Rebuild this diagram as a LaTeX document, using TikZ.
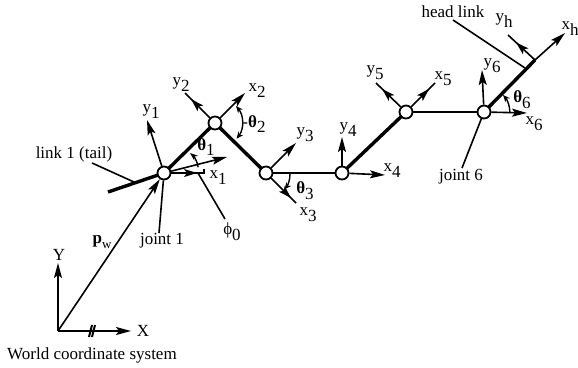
\documentclass[tikz,border=0pt]{standalone}
\usepackage{fontspec}
\setmainfont{Liberation Serif}
\usepackage{tikz}
\usetikzlibrary{arrows.meta, decorations.markings}
\newcommand{\Sub}[2]{#1\raisebox{-0.75ex}{#2}}
\tikzset{
    joint/.style={circle, draw, fill=white, line width=1.8pt, minimum size=13pt, inner sep=0pt},
    tag/.style={inner sep=0pt, font=\fontsize{17}{18}\selectfont},
    bone/.style={line width=3.4pt},
    halfbone/.style={line width=2.2pt},
    leader/.style={line width=1.6pt},
    frame/.style={line width=1.6pt, -{Stealth[length=15pt,width=8pt,inset=3pt]}},
    midhead/.style={line width=1.6pt, postaction={decorate},
      decoration={markings, mark=at position #1 with {\arrow{Stealth[length=13pt,width=8pt,inset=3pt]}}}},
    anglearc/.style={line width=1.4pt},
}

\begin{document}
\begin{tikzpicture}[x=1pt, y=-1pt]
    \useasboundingbox (0,0) rectangle (578,367);

    % free ends
    \coordinate (world) at (58,331);
    \coordinate (worldX) at (131,331);
    \coordinate (worldY) at (58,263);
    \coordinate (tail) at (108,192);
    \coordinate (headend) at (535,60);
    \coordinate (tip1x) at (227,157);
    \coordinate (tip1y) at (147,120);
    \coordinate (tip1z) at (204,173);
    \coordinate (tip2x) at (245,93);
    \coordinate (tip2y) at (185,93);
    \coordinate (tip3x) at (296,203);
    \coordinate (tip3y) at (296,143);
    \coordinate (tip4x) at (385,175);
    \coordinate (tip4y) at (342,137);
    \coordinate (tip5x) at (435,83);
    \coordinate (tip5y) at (376,83);
    \coordinate (tip6x) at (527,113);
    \coordinate (tip6y) at (482,70);
    \coordinate (tiphx) at (565,33);
    \coordinate (tiphy) at (508,35);
    \coordinate (tailfoot) at (134,182);
    \coordinate (headfoot) at (525,68);
    \coordinate (phifoot) at (198,173);

    % links
    \draw[bone] (tail) -- (164,173) -- (215,123) -- (266,173);
    \draw[halfbone] (266,173) -- (342,173);
    \draw[bone] (342,173) -- (406,112);
    \draw[halfbone] (406,112) -- (484,112);
    \draw[bone] (484,112) -- (headend);

    % joints
    \node[joint] (j1) at (164,173) {};
    \node[joint] (j2) at (215,123) {};
    \node[joint] (j3) at (266,173) {};
    \node[joint] (j4) at (342,173) {};
    \node[joint] (j5) at (406,112) {};
    \node[joint] (j6) at (484,112) {};

    % frames
    \draw[frame] (world) -- (worldX);
    \draw[frame] (world) -- (worldY);
    \draw[line width=2pt] (89,337) -- (92,325);
    \draw[line width=2pt] (92,337) -- (95,325);
    \draw[frame] (world) -- (j1);
    \draw[frame] (j1) -- (tip1x);
    \draw[frame] (j1) -- (tip1y);
    \draw[midhead=0.7] (j1) -- (tip1z) -- ++(0,-4);
    \draw[frame] (j2) -- (tip2x);
    \draw[midhead=0.75] (j2) -- (tip2y);
    \draw[midhead=0.8] (j3) -- (tip3x);
    \draw[frame] (j3) -- (tip3y);
    \draw[frame] (j4) -- (tip4x);
    \draw[frame] (j4) -- (tip4y);
    \draw[midhead=0.75] (j5) -- (tip5x);
    \draw[midhead=0.75] (j5) -- (tip5y);
    \draw[frame] (j6) -- (tip6x);
    \draw[frame] (j6) -- (tip6y);
    \draw[frame] (headend) -- (tiphx);
    \draw[midhead=0.7] (headend) -- (tiphy);

    % angles
    \draw[anglearc, {Stealth[length=8pt,width=6pt]}-] (190,153) arc[start angle=-50, end angle=-10, radius=24];
    \draw[anglearc, {Stealth[length=7pt,width=6pt]}-{Stealth[length=7pt,width=6pt]}] (236,106) arc[start angle=-40, end angle=38, radius=26];
    \draw[anglearc, -{Stealth[length=7pt,width=6pt]}] (290,174) arc[start angle=0, end angle=40, radius=24];
    \draw[anglearc, {Stealth[length=7pt,width=6pt]}-] (503,95) arc[start angle=-42, end angle=0, radius=27];

    % labels
    \node[tag] (lblworld) at (92,355) {World coordinate system};
    \node[tag] (lblX) at (143,331) {X};
    \node[tag] (lblY) at (59,255) {Y};
    \node[tag] (lblpw) at (102,242) {\Sub{\textbf{p}}{\fontsize{13}{14}\selectfont w}};
    \node[tag] (lblj1) at (162,241) {joint 1};
    \node[tag] (lblphi) at (232,232) {\Sub{ϕ}{0}};
    \node[tag] (lbltail) at (74,154) {link 1 (tail)};
    \node[tag] (lblx1) at (218,178) {\Sub{x}{1}};
    \node[tag] (lbly1) at (151,112) {\Sub{y}{1}};
    \node[tag] (lblth1) at (206,147) {\Sub{\textbf{θ}}{1}};
    \node[tag] (lblx2) at (257,91) {\Sub{x}{2}};
    \node[tag] (lbly2) at (181,85) {\Sub{y}{2}};
    \node[tag] (lblth2) at (254,124) {-\Sub{\textbf{θ}}{2}};
    \node[tag] (lblx3) at (308,215) {\Sub{x}{3}};
    \node[tag] (lbly3) at (305,135) {\Sub{y}{3}};
    \node[tag] (lblth3) at (305,191) {\Sub{\textbf{θ}}{3}};
    \node[tag] (lblx4) at (392,171) {\Sub{x}{4}};
    \node[tag] (lbly4) at (348,130) {\Sub{y}{4}};
    \node[tag] (lblx5) at (443,79) {\Sub{x}{5}};
    \node[tag] (lbly5) at (375,73) {\Sub{y}{5}};
    \node[tag] (lblj6) at (461,177) {joint 6};
    \node[tag] (lblx6) at (534,124) {\Sub{x}{6}};
    \node[tag] (lbly6) at (492,66) {\Sub{y}{6}};
    \node[tag] (lblth6) at (522,100) {\Sub{\textbf{θ}}{6}};
    \node[tag] (lblhead) at (453,12) {head link};
    \node[tag] (lblxh) at (570,29) {\Sub{x}{h}};
    \node[tag] (lblyh) at (504,21) {\Sub{y}{h}};

    % leaders
    \draw[leader] (92,163) -- (tailfoot);
    \draw[leader] (453,20) -- (headfoot);
    \draw[leader] (j1) -- (159,233);
    \draw[leader] (phifoot) -- (225,219);
    \draw[leader] (j6) -- (462,168);
\end{tikzpicture}
\end{document}
